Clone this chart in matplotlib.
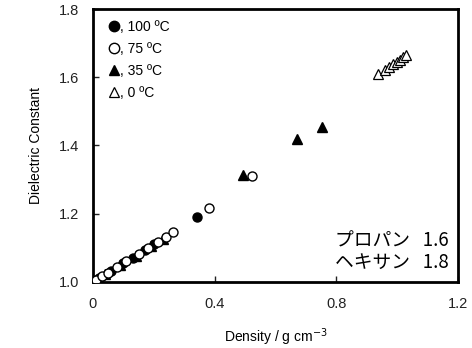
import matplotlib
matplotlib.use("Agg")
import matplotlib.pyplot as plt

plt.rcParams['font.family'] = ['Liberation Sans', 'DejaVu Sans']

# 100 C (filled circles)
x100 = [0.02, 0.06, 0.10, 0.13, 0.17, 0.20, 0.342]
y100 = [1.011, 1.033, 1.055, 1.071, 1.093, 1.110, 1.191]
# 75 C (open circles)
x75 = [0.01, 0.03, 0.05, 0.08, 0.11, 0.15, 0.18, 0.215, 0.24, 0.262, 0.382, 0.522]
y75 = [1.005, 1.016, 1.027, 1.044, 1.060, 1.082, 1.099, 1.118, 1.132, 1.145, 1.216, 1.309]
# 35 C (filled triangles)
x35 = [0.04, 0.09, 0.14, 0.19, 0.23, 0.494, 0.670, 0.754]
y35 = [1.022, 1.049, 1.077, 1.104, 1.127, 1.313, 1.419, 1.455]
# 0 C (open triangles)
x0 = [0.938, 0.962, 0.975, 0.988, 1.000, 1.010, 1.020, 1.030]
y0 = [1.611, 1.622, 1.630, 1.638, 1.645, 1.652, 1.658, 1.665]

xticks = [0, 0.4, 0.8, 1.2]
xticklabels = ["0", "0.4", "0.8", "1.2"]
yticks = [1.0, 1.2, 1.4, 1.6, 1.8]

fig = plt.figure(figsize=(4.72, 3.48), dpi=100)
ax = fig.add_axes([0.197, 0.190, 0.773, 0.784])

ms = 6.5
ax.plot(x100, y100, 'o', color='black', ms=ms, label=', 100 ºC', zorder=3)
ax.plot(x75, y75, 'o', mfc='white', mec='black', mew=1.0, ms=ms, label=', 75 ºC', zorder=4)
ax.plot(x35, y35, '^', color='black', ms=ms, label=', 35 ºC', zorder=3)
ax.plot(x0, y0, '^', mfc='white', mec='black', mew=0.9, ms=ms, label=', 0 ºC', zorder=3)

ax.set_xlim(0, 1.2)
ax.set_ylim(1.0, 1.8)
ax.set_xticks(xticks)
ax.set_xticklabels(xticklabels)
ax.set_yticks(yticks)
ax.set_yticklabels([f"{v:.1f}" for v in yticks])
ax.tick_params(direction='in', length=4, width=1, labelsize=10.5, pad=10, colors='#222222')
ax.tick_params(axis='x', pad=11)
for s in ax.spines.values():
    s.set_linewidth(2)

ax.set_xlabel("Density / g cm$^{-3}$", fontsize=10, labelpad=11)
ax.set_ylabel("Dielectric Constant", fontsize=10, labelpad=11)

leg = ax.legend(loc='upper left', frameon=False, fontsize=10, handlelength=0.6,
                handletextpad=0.1, labelspacing=0.58, borderaxespad=0.3,
                bbox_to_anchor=(0.02, 0.995), markerscale=1.15)

jp = ['Noto Sans CJK JP', 'Liberation Sans']
ax.text(0.975, 0.151, "プロパン   1.6", transform=ax.transAxes, ha='right', va='center',
        fontsize=13.5, family=jp)
ax.text(0.975, 0.070, "ヘキサン   1.8", transform=ax.transAxes, ha='right', va='center',
        fontsize=13.5, family=jp)

fig.savefig("out.png", dpi=100)
